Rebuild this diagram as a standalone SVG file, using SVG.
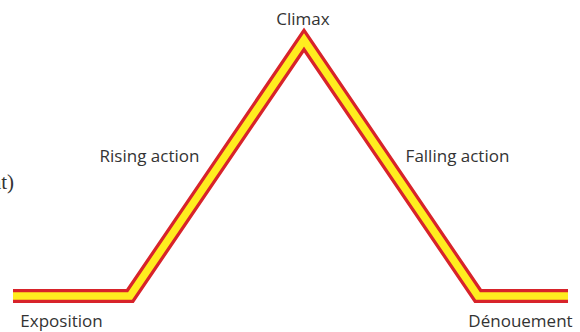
<svg xmlns="http://www.w3.org/2000/svg" width="580" height="332" viewBox="0 0 580 332">
<style>
.lbl{font-family:"Open Sans","Noto Sans",sans-serif;font-size:17px;fill:#333}
.outer{fill:none;stroke:#d8232a;stroke-width:14;stroke-linejoin:miter;stroke-miterlimit:10}
.inner{fill:none;stroke:#ffed1f;stroke-width:7.5;stroke-linejoin:miter;stroke-miterlimit:10}
</style>
<rect width="580" height="332" fill="#fff"/>
<g id="connectors">
<path class="outer" d="M13,296 L130,296 L304,40 L478,296 L568,296"/>
<path class="inner" d="M13,296 L130,296 L304,40 L478,296 L568,296"/>
</g>
<g id="climax"><text class="lbl" x="303" y="25" text-anchor="middle">Climax</text></g>
<g id="rising"><text class="lbl" x="149.5" y="162" text-anchor="middle">Rising action</text></g>
<g id="falling"><text class="lbl" x="457.5" y="162" text-anchor="middle">Falling action</text></g>
<g id="exposition"><text class="lbl" x="61.5" y="327" text-anchor="middle">Exposition</text></g>
<g id="denouement"><text class="lbl" x="520.5" y="327" text-anchor="middle">Dénouement</text></g>
<g id="partial"><text x="14" y="189" text-anchor="end" font-family="Liberation Serif, serif" font-size="21" fill="#333">nt)</text></g>
</svg>
